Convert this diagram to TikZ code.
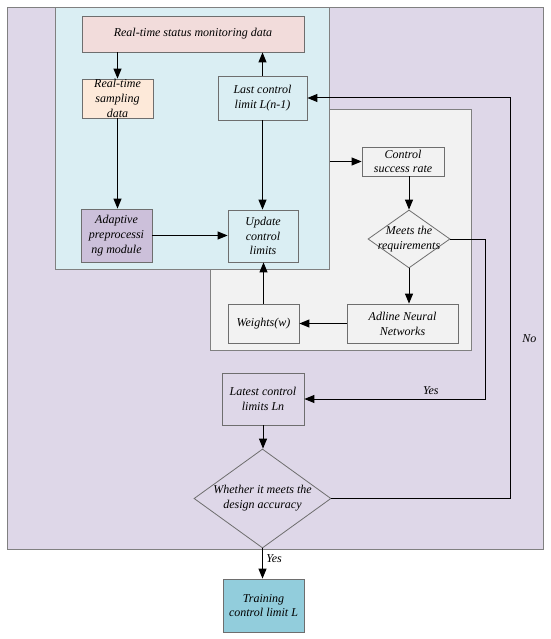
\documentclass[tikz,border=0pt]{standalone}
\usepackage{fontspec}
\setmainfont{Liberation Serif}
\usetikzlibrary{arrows.meta,shapes.geometric}
\definecolor{purplebg}{RGB}{222,215,232}
\definecolor{bluebg}{RGB}{218,238,243}
\definecolor{graybg}{RGB}{242,242,242}
\definecolor{pinkc}{RGB}{242,220,219}
\definecolor{peachc}{RGB}{253,233,217}
\definecolor{lilac}{RGB}{204,192,218}
\definecolor{tealc}{RGB}{146,205,220}
\definecolor{bordc}{RGB}{110,110,110}
\definecolor{panelbord}{RGB}{128,128,128}
\begin{document}
\begin{tikzpicture}[x=1pt,y=-1pt,
  font=\fontsize{12}{14.8}\selectfont\itshape,
  panel/.style={draw=panelbord, line width=0.8pt, inner sep=0pt, anchor=north west},
  box/.style={draw=bordc, line width=0.8pt, align=center, inner sep=0pt},
  dia/.style={draw=bordc, line width=0.8pt, diamond, inner sep=0pt},
  arr/.style={line width=1pt, -{Triangle[length=10pt,width=8pt]}},
  lin/.style={line width=1pt}]
\useasboundingbox (0,0) rectangle (550,639);
% panels
\node[panel, fill=purplebg, minimum width=536, minimum height=542] (outer) at (7,7) {};
\node[panel, fill=graybg, minimum width=261, minimum height=241] (gray) at (210,109) {};
\node[panel, fill=bluebg, minimum width=274, minimum height=262] (blue) at (55,7) {};
% boxes
\node[box, fill=pinkc, minimum width=222, minimum height=36] (mon) at (193,34) {Real-time status monitoring data};
\node[box, fill=peachc, minimum width=71, minimum height=39] (samp) at (117.5,98.5) {Real-time\\sampling\\data};
\node[box, fill=bluebg, minimum width=89, minimum height=44] (last) at (262.5,98) {Last control\\limit L(n-1)};
\node[box, fill=lilac, minimum width=71, minimum height=53] (adap) at (116.5,235.5) {Adaptive\\preprocessi\\ng module};
\node[box, fill=bluebg, minimum width=70, minimum height=52] (upd) at (263,236) {Update\\control\\limits};
\node[box, fill=graybg, minimum width=82, minimum height=29] (ctrl) at (403,161.5) {Control\\success rate};
\node[dia, fill=graybg, minimum width=82, minimum height=58,
  label={[align=center]center:Meets the\\requirements}] (d1) at (409,239) {};
\node[box, fill=graybg, minimum width=111, minimum height=39] (adl) at (402.5,323.5) {Adline Neural\\Networks};
\node[box, fill=graybg, minimum width=71, minimum height=39] (wts) at (263.5,323.5) {Weights(w)};
\node[box, fill=purplebg, minimum width=82, minimum height=52] (lat) at (263,399) {Latest control\\limits Ln};
\node[dia, fill=purplebg, minimum width=137, minimum height=99,
  label={[align=center]center:Whether it meets the\\design accuracy}] (d2) at (262.5,498.5) {};
\node[box, fill=tealc, minimum width=81, minimum height=53] (train) at (263.5,605.5) {Training\\control limit L};
% coordinates for loop lines
\coordinate (yesx) at (485,0);
\coordinate (nox) at (510.5,0);
% connectors
\draw[arr] (samp.north |- mon.south) -- (samp.north);
\draw[arr] (samp.south) -- (samp.south |- adap.north);
\draw[arr] (adap.east) -- (adap.east -| upd.west);
\draw[arr] (last.north) -- (last.north |- mon.south);
\draw[arr] (last.south) -- (last.south |- upd.north);
\draw[arr] (wts.north) -- (wts.north |- upd.south);
\draw[arr] (ctrl.west -| blue.east) -- (ctrl.west);
\draw[arr] (d1.north |- ctrl.south) -- (d1.north);
\draw[arr] (d1.south) -- (d1.south |- adl.north);
\draw[arr] (adl.west) -- (adl.west -| wts.east);
\draw[arr] (d1.east) -- (d1.east -| yesx) -- (yesx |- lat.east) -- node[above, pos=0.3, yshift=1pt] (yes1) {Yes} (lat.east);
\draw[arr] (lat.south) -- (lat.south |- d2.north);
\draw[arr] (d2.east) -- (d2.east -| nox) -- node[right, pos=0.4, xshift=8pt] (no1) {No} (nox |- last.east) -- (last.east);
\draw[arr] (d2.south) -- node[right, pos=0.35] (yes2) {Yes} (d2.south |- train.north);
\end{tikzpicture}
\end{document}
